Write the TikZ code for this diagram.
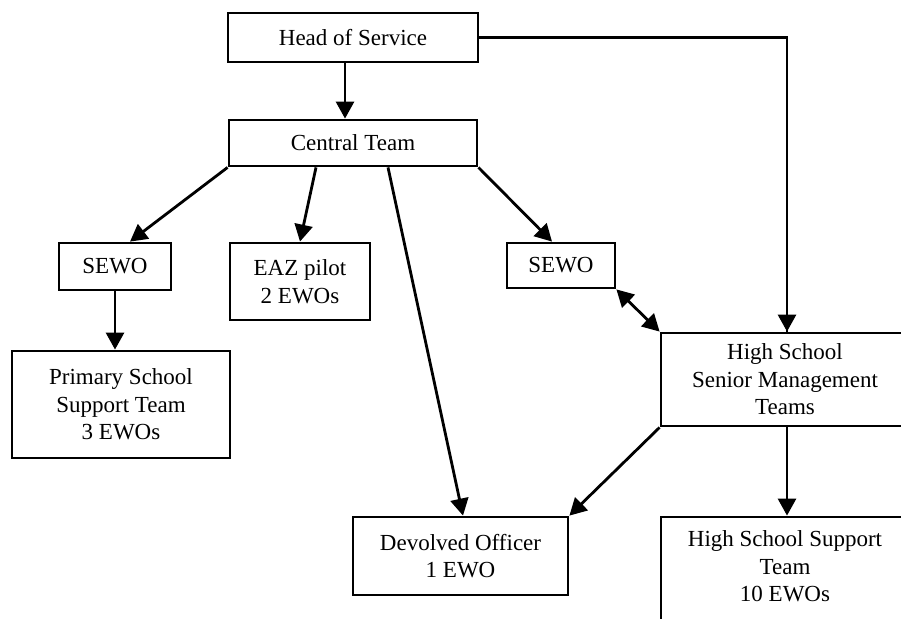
\documentclass[tikz,border=0pt]{standalone}
\usepackage{fontspec}
\setmainfont{Liberation Serif}
\usetikzlibrary{arrows.meta}
\begin{document}
\begin{tikzpicture}[x=1pt,y=-1pt,
  box/.style={draw, line width=2.8pt, inner sep=0pt, align=center,
    font=\fontsize{23}{27.5}\selectfont},
  conn/.style={line width=2.8pt, -{Triangle[length=17pt,width=18pt]}},
  dconn/.style={line width=2.8pt, {Triangle[length=17pt,width=18pt]}-{Triangle[length=17pt,width=18pt]}},
  plain/.style={line width=2.8pt}]
\useasboundingbox (0,0) rectangle (901,618);
\clip (0,0) rectangle (901,618);
\fill[white] (0,0) rectangle (901,618);
\node[box, minimum width=250pt, minimum height=49pt] (head) at (353,37.5) {Head of Service};
\node[box, minimum width=248pt, minimum height=46pt] (central) at (353,143) {Central Team};
\node[box, minimum width=112pt, minimum height=47pt] (sewoL) at (115,266.5) {SEWO};
\node[box, minimum width=140pt, minimum height=77pt] (eaz) at (300,281.5) {EAZ pilot\\2 EWOs};
\node[box, minimum width=108pt, minimum height=45pt] (sewoR) at (561,265.5) {SEWO};
\node[box, minimum width=218pt, minimum height=107pt] (primary) at (121,404.5) {Primary School\\Support Team\\3 EWOs};
\node[box, minimum width=248pt, minimum height=93pt] (smt) at (785,379.5) {High School\\Senior Management\\Teams};
\node[box, minimum width=215pt, minimum height=78pt] (devolved) at (460.5,556) {Devolved Officer\\1 EWO};
\node[box, minimum width=248pt, minimum height=126pt] (hsst) at (785,580) {High School Support\\Team\\10 EWOs\\\mbox{}};
% connectors
\draw[conn] ([xshift=-8pt]head.south) -- ([xshift=-8pt]central.north);
\draw[plain] (head.east) -| ([xshift=2pt]smt.north);
\draw[conn] ([xshift=2pt]smt.north |- head.east) -- ([xshift=2pt]smt.north);
\draw[conn] (central.south west) -- ([xshift=15pt]sewoL.north);
\draw[conn] ([xshift=-37pt]central.south) -- (eaz.north);
\draw[conn] ([xshift=35pt]central.south) -- ([xshift=2.5pt]devolved.north);
\draw[conn] (central.south east) -- ([xshift=-9pt]sewoR.north);
\draw[conn] (sewoL.south) -- (sewoL.south |- primary.north);
\draw[dconn] (sewoR.south east) -- (smt.north west);
\draw[conn] (smt.south west) -- (devolved.north east);
\draw[conn] ([xshift=2pt]smt.south) -- ([xshift=2pt]hsst.north);
\end{tikzpicture}
\end{document}
